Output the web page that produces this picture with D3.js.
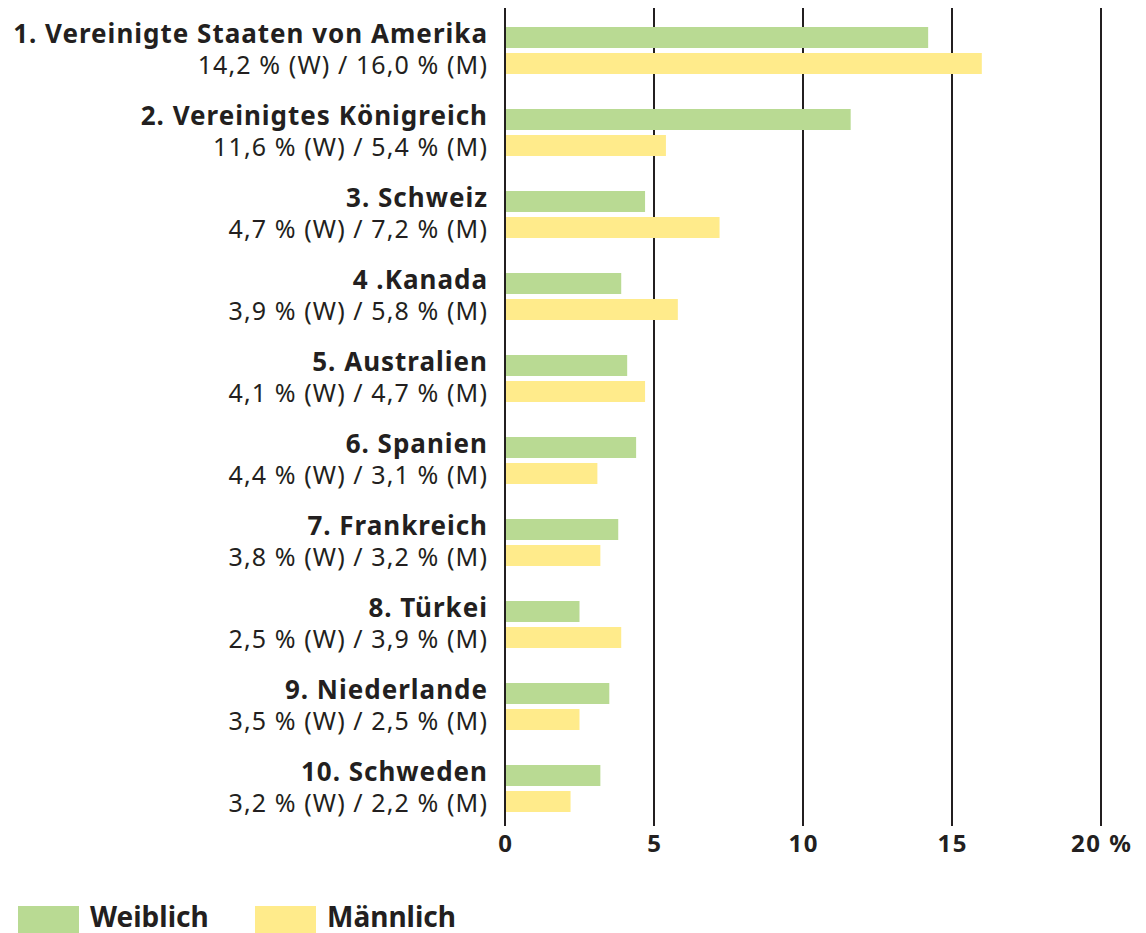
<!DOCTYPE html>
<html>
<head>
<meta charset="utf-8">
<script src="https://cdn.jsdelivr.net/npm/d3@7"></script>
<style>
  body { margin: 0; background: #fff; }
  svg { font-family: "Noto Sans", sans-serif; }
</style>
</head>
<body>
<div id="chart"></div>
<script>
const countries = ["1. Vereinigte Staaten von Amerika", "2. Vereinigtes Königreich", "3. Schweiz", "4 .Kanada",
  "5. Australien", "6. Spanien", "7. Frankreich", "8. Türkei", "9. Niederlande", "10. Schweden"];
const weiblich = [14.2, 11.6, 4.7, 3.9, 4.1, 4.4, 3.8, 2.5, 3.5, 3.2];
const maennlich = [16.0, 5.4, 7.2, 5.8, 4.7, 3.1, 3.2, 3.9, 2.5, 2.2];
const ticks = [0, 5, 10, 15, 20];
const seriesNames = ["Weiblich", "Männlich"];
const seriesColors = ["#b9da93", "#ffeb8b"];

const fmt = v => d3.format(".1f")(v).replace(".", ",");
const ink = "#231f20";

const svg = d3.select("#chart")
  .append("svg")
  .attr("width", 1146)
  .attr("height", 933);

const x = d3.scaleLinear([0, 20], [505, 1101]);
const y = d3.scaleBand()
  .domain(countries)
  .range([27, 847]);
const sub = d3.scaleBand()
  .domain(["w", "m"])
  .range([0, 47])
  .paddingInner(0.1923);

// grid lines
svg.append("g")
  .selectAll("line")
  .data(ticks)
  .join("line")
    .attr("x1", d => x(d))
    .attr("x2", d => x(d))
    .attr("y1", 8)
    .attr("y2", 826)
    .attr("stroke", ink)
    .attr("stroke-width", 2);

// tick labels
svg.append("g")
  .selectAll("text")
  .data(ticks)
  .join("text")
    .attr("x", d => x(d) + 0.75)
    .attr("y", 852)
    .attr("text-anchor", "middle")
    .attr("font-weight", "bold")
    .attr("font-size", 24)
    .attr("letter-spacing", 1.5)
    .attr("fill", ink)
    .text(d => d === 20 ? "20 %" : d);

const rows = countries.map((c, i) => ({name: c, w: weiblich[i], m: maennlich[i]}));

const row = svg.append("g")
  .selectAll("g")
  .data(rows)
  .join("g")
    .attr("transform", d => `translate(0,${y(d.name)})`);

row.append("rect")
  .attr("x", x(0) + 1)
  .attr("y", sub("w"))
  .attr("width", d => x(d.w) - x(0) - 1)
  .attr("height", sub.bandwidth())
  .attr("fill", seriesColors[0]);

row.append("rect")
  .attr("x", x(0) + 1)
  .attr("y", sub("m"))
  .attr("width", d => x(d.m) - x(0) - 1)
  .attr("height", sub.bandwidth())
  .attr("fill", seriesColors[1]);

row.append("text")
  .attr("x", 488)
  .attr("y", 16)
  .attr("text-anchor", "end")
  .attr("font-weight", "bold")
  .attr("font-size", 26)
  .attr("letter-spacing", 1)
  .attr("fill", ink)
  .text(d => d.name);

row.append("text")
  .attr("x", 488)
  .attr("y", 47)
  .attr("text-anchor", "end")
  .attr("font-size", 25)
  .attr("letter-spacing", 1.1)
  .attr("fill", ink)
  .text(d => `${fmt(d.w)} % (W) / ${fmt(d.m)} % (M)`);

// legend
const legend = svg.append("g")
  .selectAll("g")
  .data(seriesNames)
  .join("g")
    .attr("transform", (d, i) => `translate(${[18, 255][i]},906)`);

legend.append("rect")
  .attr("width", 61)
  .attr("height", 27)
  .attr("fill", (d, i) => seriesColors[i]);

legend.append("text")
  .attr("x", 72)
  .attr("y", 21)
  .attr("font-weight", "bold")
  .attr("font-size", 28)
  .attr("fill", ink)
  .text(d => d);
</script>
</body>
</html>
